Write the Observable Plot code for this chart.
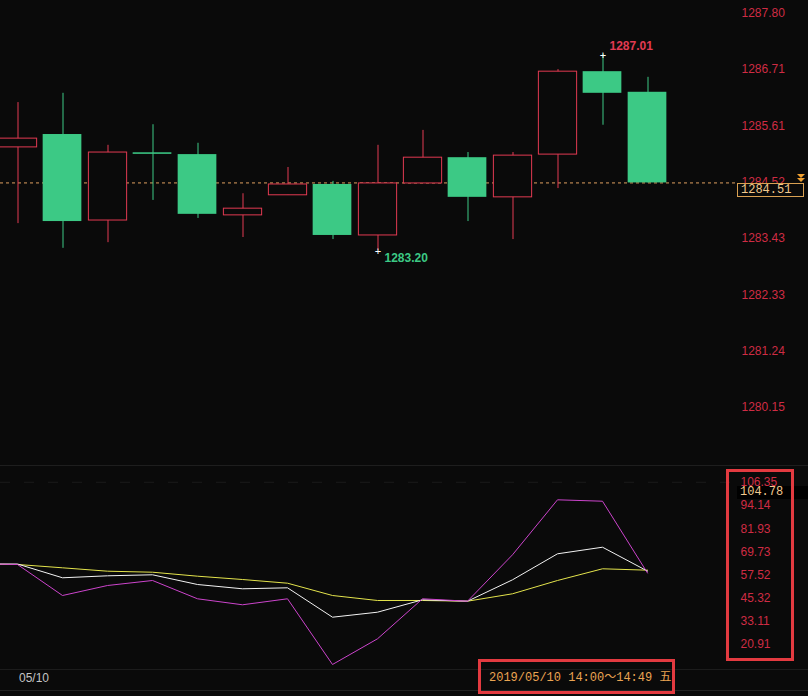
<!DOCTYPE html>
<html><head><meta charset="utf-8">
<script src="https://cdn.jsdelivr.net/npm/d3@7"></script>
<script src="https://cdn.jsdelivr.net/npm/@observablehq/plot@0.6"></script>
<style>
html,body{margin:0;padding:0;background:#0a0a0a;}
#wrap{position:relative;width:808px;height:696px;background:#0a0a0a;overflow:hidden;font-family:"Liberation Sans",Arial,sans-serif;}
.abs{position:absolute;box-sizing:border-box;}
svg{overflow:visible;}
</style></head><body><div id="wrap"></div>
<script>
// ---- data ----
const bars   = [0,1,2,3,4,5,6,7,8,9,10,11,12,13,14];
const opens  = [1285.20,1285.45,1283.78,1285.095,1285.06,1283.88,1284.27,1284.48,1283.49,1284.50,1285.00,1284.23,1285.06,1286.67,1286.27];
const highs  = [1286.07,1286.25,1285.24,1285.64,1285.28,1284.30,1284.81,1284.54,1285.24,1285.53,1285.10,1285.10,1286.71,1287.01,1286.56];
const lows   = [1283.72,1283.24,1283.35,1284.17,1283.82,1283.45,1284.27,1283.41,1283.20,1284.50,1283.76,1283.41,1284.40,1285.63,1284.51];
const closes = [1285.37,1283.76,1285.10,1285.065,1283.90,1284.01,1284.48,1283.49,1284.50,1285.00,1284.23,1285.04,1286.67,1286.25,1284.51];

const lineIdx = [-1,0,1,2,3,4,5,6,7,8,9,10,11,12,13,14];
const fastLine = [63.5,63.09,46.77,52.03,54.67,45.04,41.88,45.04,10.46,23.98,45.04,43.77,68.19,97.14,96.40,58.6];
const midLine  = [63.4,63.35,56.09,57.14,57.67,52.56,50.30,50.82,35.35,37.98,44.51,43.77,55.03,68.72,72.19,59.6];
const slowLine = [63.3,63.09,61.35,59.56,59.03,56.93,55.19,53.25,46.77,44.14,44.14,43.77,47.67,54.67,60.83,60.1];

const priceTicks = [1287.80,1286.71,1285.61,1284.52,1283.43,1282.33,1281.24,1280.15];
const indTicks   = [106.35,94.14,81.93,69.73,57.52,45.32,33.11,20.91];
const lastPrice = 1284.51;
const lastInd = 104.78;
const highMark = [{i:13, v:1287.01}];
const lowMark  = [{i:8,  v:1283.20}];
const dayLabel = "05/10";
const rangeLabel = "2019/05/10 14:00～14:49 五";

// ---- colors ----
const RED = "#e23a52", GREEN = "#3cc985", AXRED = "#cf2c44", BG = "#0a0a0a";

const candles = bars.map(i => ({i, o: opens[i], h: highs[i], l: lows[i], c: closes[i], up: closes[i] >= opens[i]}));
const ups = candles.filter(d => d.up), downs = candles.filter(d => !d.up);
const xDomain = [-0.378, 16.0];

const wrap = document.getElementById("wrap");

const topPlot = Plot.plot({
  width: 808, height: 466, marginLeft: 0, marginRight: 71, marginTop: 0, marginBottom: 0,
  x: {type: "linear", domain: xDomain, axis: null},
  y: {domain: [1279.004, 1288.052], axis: null},
  style: {background: "transparent", fontFamily: "Liberation Sans, Arial, sans-serif", fontSize: "12px", overflow: "visible"},
  marks: [
    Plot.ruleY([lastPrice], {stroke: "#e0a060", strokeDasharray: "3,3", strokeWidth: 1}),
    Plot.ruleX(ups, {x: "i", y1: "l", y2: "h", stroke: RED, strokeWidth: 1, dx: 0.5, clip: true}),
    Plot.ruleX(downs, {x: "i", y1: "l", y2: "h", stroke: GREEN, strokeWidth: 1, dx: 0.5, clip: true}),
    Plot.rect(ups, {x1: d => d.i - 0.425, x2: d => d.i + 0.425, y1: "o", y2: "c", fill: BG, stroke: RED, strokeWidth: 1, dx: 0.5, clip: true}),
    Plot.rect(downs, {x1: d => d.i - 0.43, x2: d => d.i + 0.43, y1: "o", y2: "c", fill: GREEN, clip: true}),
    Plot.axisY(priceTicks, {anchor: "right", tickSize: 0, tickPadding: 4, textAnchor: "start", fill: AXRED, fontSize: 12, tickFormat: d => d.toFixed(2)}),
    Plot.text(highMark, {x: "i", y: "v", text: d => d.v.toFixed(2), dx: 7, dy: -8, textAnchor: "start", fill: RED, fontWeight: "bold", fontSize: 12}),
    Plot.text(lowMark, {x: "i", y: "v", text: d => d.v.toFixed(2), dx: 7, dy: 8, textAnchor: "start", fill: GREEN, fontWeight: "bold", fontSize: 12}),
    Plot.text(highMark.concat(lowMark), {x: "i", y: "v", text: () => "+", fill: "#ffffff", fontSize: 11, dx: 0.5, dy: 1})
  ]
});
topPlot.classList.add("abs");
topPlot.style.left = "0px"; topPlot.style.top = "0px";
wrap.appendChild(topPlot);

const botPlot = Plot.plot({
  width: 808, height: 230, marginLeft: 0, marginRight: 71, marginTop: 0, marginBottom: 0,
  x: {type: "linear", domain: xDomain, axis: null},
  y: {domain: [-6.39, 114.67], axis: null},
  style: {background: "transparent", fontFamily: "Liberation Sans, Arial, sans-serif", fontSize: "12px", overflow: "visible"},
  marks: [
    Plot.ruleY([indTicks[0]], {stroke: "#1a1a1a", strokeDasharray: "10,14"}),
    Plot.line(lineIdx, {x: d => d, y: (d, k) => slowLine[k], stroke: "#e4e44c", strokeWidth: 1, clip: true}),
    Plot.line(lineIdx, {x: d => d, y: (d, k) => midLine[k], stroke: "#f2f2f2", strokeWidth: 1, clip: true}),
    Plot.line(lineIdx, {x: d => d, y: (d, k) => fastLine[k], stroke: "#cc44cc", strokeWidth: 1, clip: true}),
    Plot.axisY(indTicks, {anchor: "right", tickSize: 0, tickPadding: 3, textAnchor: "start", fill: AXRED, fontSize: 12, tickFormat: d => d.toFixed(2)})
  ]
});
botPlot.classList.add("abs");
botPlot.style.left = "0px"; botPlot.style.top = "466px";
wrap.appendChild(botPlot);

function addDiv(css, text) {
  const d = document.createElement("div");
  d.className = "abs";
  d.style.cssText += css;
  if (text != null) d.textContent = text;
  wrap.appendChild(d);
  return d;
}

// separators
addDiv("left:0;top:465px;width:808px;height:1px;background:#1e1e1e;");
addDiv("left:0;top:669px;width:808px;height:1px;background:#1c1c1c;");
addDiv("left:0;top:690px;width:808px;height:1px;background:#222;");

// last price box (position from the plot's scale)
const yTop = topPlot.scale("y");
const yp = yTop.apply(lastPrice);
addDiv(`left:737px;top:${yp + 1}px;width:67px;height:14px;background:${BG};border:1px solid #d9a052;color:#f2c98e;font:12px 'Liberation Mono','DejaVu Sans Mono',monospace;line-height:12px;padding-left:3px;`, lastPrice.toFixed(2));
// small arrow markers
addDiv(`left:797px;top:${yp - 8}px;width:0;height:0;border-left:4px solid transparent;border-right:4px solid transparent;border-top:4px solid #f0a030;`);
addDiv(`left:797px;top:${yp - 4}px;width:0;height:0;border-left:4px solid transparent;border-right:4px solid transparent;border-top:4px solid #f0a030;`);

// last indicator value
const yBot = botPlot.scale("y");
const yi = 466 + yBot.apply(lastInd);
addDiv(`left:737px;top:${yi + 1}px;width:71px;height:13px;background:#000;color:#f2c98e;font:12px 'Liberation Mono','DejaVu Sans Mono',monospace;line-height:13px;padding-left:3px;`, lastInd.toFixed(2));

// bottom labels
addDiv("left:19px;top:671px;color:#c4c4c4;font:12px 'Liberation Sans',Arial,sans-serif;line-height:14px;", dayLabel);
addDiv("left:489px;top:670px;color:#eaa452;font:12px 'Liberation Mono','DejaVu Sans Mono','Noto Sans CJK SC',monospace;line-height:16px;white-space:nowrap;", rangeLabel);

// highlight boxes
addDiv("left:726px;top:469px;width:68px;height:192px;border:3px solid #e33a40;");
addDiv("left:478px;top:659px;width:197px;height:35px;border:3px solid #e33a40;");
</script></body></html>
